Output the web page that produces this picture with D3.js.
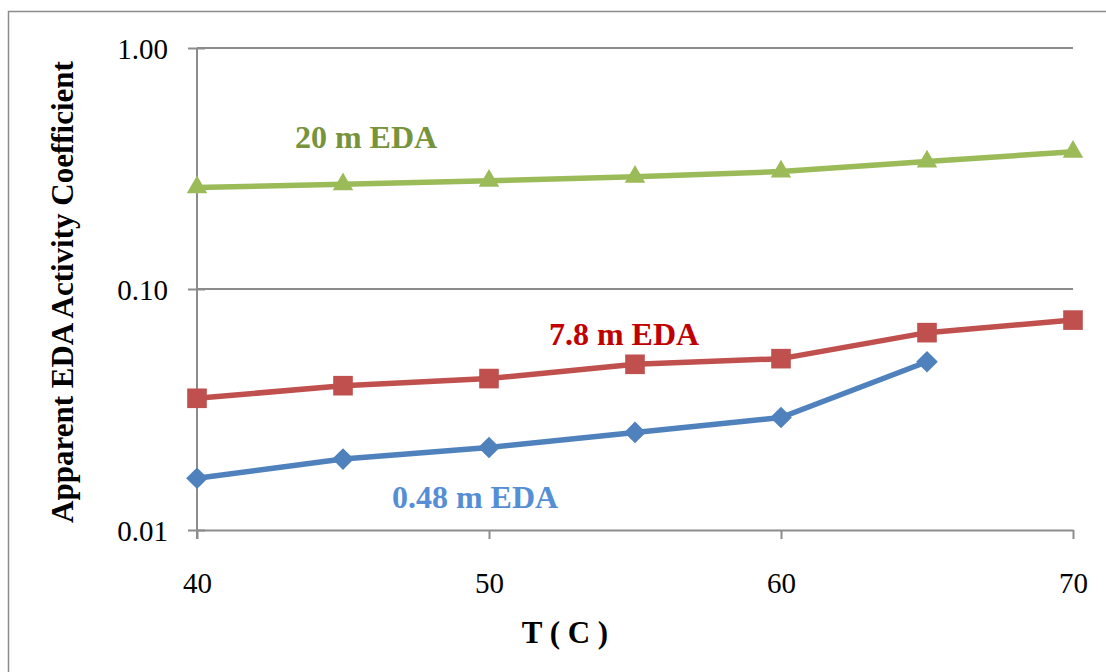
<!DOCTYPE html>
<html>
<head>
<meta charset="utf-8">
<script src="https://cdn.jsdelivr.net/npm/d3@7"></script>
<style>
  html, body { margin: 0; padding: 0; background: #fff; }
  svg { display: block; }
</style>
</head>
<body>
<svg id="chart" width="1106" height="672"></svg>
<script>
// Temperature (°C) on the x axis
const temps = [40, 45, 50, 55, 60, 65, 70];

// Apparent EDA activity coefficient for each EDA concentration
const eda048 = [0.0164, 0.0197, 0.0220, 0.0254, 0.0293, 0.0499];
const eda78  = [0.0352, 0.0397, 0.0425, 0.0487, 0.0514, 0.0659, 0.0743];
const eda20  = [0.264, 0.272, 0.281, 0.292, 0.307, 0.338, 0.371];

const xTicks = [40, 50, 60, 70];
const yTicks = [0.01, 0.1, 1];
const yTickLabels = ["0.01", "0.10", "1.00"];

const seriesNames = ["0.48 m EDA", "7.8 m EDA", "20 m EDA"];

const svg = d3.select("#chart");
const font = "'Liberation Serif', 'Times New Roman', serif";

// Outer frame
svg.append("rect")
  .attr("x", 8.5).attr("y", 11.5)
  .attr("width", 1200).attr("height", 800)
  .attr("fill", "none").attr("stroke", "#8c8c8c").attr("stroke-width", 1.5);

const x = d3.scaleLinear().domain([40, 70]).range([197, 1073]);
const y = d3.scaleLog().domain([0.01, 1]).range([530, 48]);

// Horizontal gridlines
svg.append("g")
  .selectAll("line")
  .data(yTicks.filter(d => d > 0.01))
  .join("line")
  .attr("x1", x(40)).attr("x2", x(70))
  .attr("y1", d => y(d)).attr("y2", d => y(d))
  .attr("stroke", "#8c8c8c").attr("stroke-width", 2);

// Y axis with ticks crossing the line
const yAxis = svg.append("g")
  .attr("transform", `translate(${x(40)},0)`)
  .call(d3.axisLeft(y).tickValues(yTicks).tickSize(9).tickFormat((d, i) => yTickLabels[i]));
yAxis.select(".domain").attr("d", `M0,${y(1)}V${y(0.01) + 9}`);
yAxis.selectAll(".tick line").attr("x2", -9).attr("x1", 8);
yAxis.selectAll(".tick text").attr("x", -29);

// X axis
const xAxis = svg.append("g")
  .attr("transform", `translate(0,${y(0.01)})`)
  .call(d3.axisBottom(x).tickValues(xTicks).tickSize(9).tickSizeOuter(0));
xAxis.selectAll(".tick text").attr("y", 42);

[yAxis, xAxis].forEach(g => {
  g.select(".domain").attr("stroke", "#8c8c8c").attr("stroke-width", 2);
  g.selectAll(".tick line").attr("stroke", "#8c8c8c").attr("stroke-width", 2);
  g.selectAll(".tick text")
    .attr("fill", "#000")
    .style("font-family", font)
    .style("font-size", "29px");
});
yAxis.selectAll(".tick text").attr("dy", "0.35em");

// Axis titles
svg.append("text")
  .attr("x", 565).attr("y", 643)
  .attr("text-anchor", "middle")
  .style("font-family", font).style("font-size", "31px").style("font-weight", "bold")
  .text("T ( C )");

svg.append("text")
  .attr("transform", "translate(73,292) rotate(-90)")
  .attr("text-anchor", "middle")
  .style("font-family", font).style("font-size", "31px").style("font-weight", "bold")
  .text("Apparent EDA Activity Coefficient");

// Series
const series = [
  { values: eda048, color: "#4F81BD", label: "#558ED5", symbol: d3.symbolDiamond2,  size: 300, lx: 475, ly: 508 },
  { values: eda78,  color: "#C0504D", label: "#C00000", symbol: d3.symbolSquare2,   size: 490, lx: 624, ly: 345 },
  { values: eda20,  color: "#9BBB59", label: "#77933C", symbol: d3.symbolTriangle2, size: 300, lx: 366, ly: 148 }
];

const line = d3.line()
  .x((d, i) => x(temps[i]))
  .y(d => y(d));

series.forEach((s, k) => {
  svg.append("path")
    .datum(s.values)
    .attr("d", line)
    .attr("fill", "none")
    .attr("stroke", s.color)
    .attr("stroke-width", 5.5)
    .attr("stroke-linejoin", "round");

  const sym = d3.symbol().type(s.symbol).size(s.size);
  svg.append("g")
    .selectAll("path")
    .data(s.values)
    .join("path")
    .attr("transform", (d, i) => `translate(${x(temps[i])},${y(d)})`)
    .attr("d", sym)
    .attr("fill", s.color);

  svg.append("text")
    .attr("x", s.lx).attr("y", s.ly)
    .attr("text-anchor", "middle")
    .attr("fill", s.label)
    .style("font-family", font).style("font-size", "32px").style("font-weight", "bold")
    .text(seriesNames[k]);
});
</script>
</body>
</html>
